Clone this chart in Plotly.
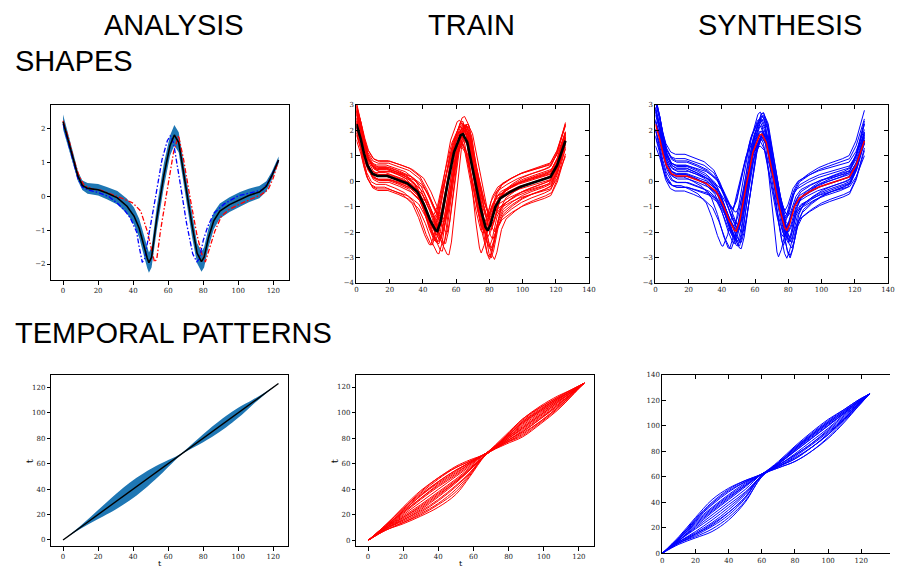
import numpy as np
import plotly.graph_objects as go

W, H = 897, 573

# ---------------- DATA ----------------
# ANALYSIS shapes (panel 1)
mean_x = [0, 3, 6, 8.5, 11, 14, 20, 25, 31, 36.5, 40.5, 43.5, 46, 48, 49, 50.5, 53.5, 57.5, 61, 63.5, 66,
          69.5, 73.5, 76.5, 79, 80.5, 83, 86, 89.5, 95, 101, 106, 112, 116, 119, 123]
mean_y = [2.21, 1.68, 1.08, 0.6, 0.33, 0.24, 0.2, 0.1, -0.04, -0.29, -0.58, -0.95, -1.45, -1.82, -1.96, -1.8,
          -0.65, 0.62, 1.5, 1.82, 1.6, 0.45, -0.82, -1.68, -1.93, -1.8, -1.22, -0.72, -0.43, -0.24, -0.09,
          0.03, 0.13, 0.3, 0.6, 1.08]
band_upper = [2.43, 1.88, 1.25, 0.74, 0.47, 0.40, 0.37, 0.28, 0.16, -0.07, -0.33, -0.67, -1.15, -1.52, -1.66,
              -1.50, -0.30, 0.97, 1.80, 2.12, 1.90, 0.80, -0.47, -1.38, -1.63, -1.50, -0.94, -0.47, -0.21,
              -0.02, 0.13, 0.23, 0.31, 0.45, 0.72, 1.18]
band_lower = [1.99, 1.48, 0.91, 0.46, 0.19, 0.08, 0.03, -0.08, -0.24, -0.51, -0.83, -1.23, -1.75, -2.12,
              -2.26, -2.10, -1.00, 0.27, 1.20, 1.52, 1.30, 0.10, -1.17, -1.98, -2.23, -2.10, -1.50, -0.97,
              -0.65, -0.46, -0.31, -0.17, -0.05, 0.15, 0.48, 0.98]
red_x = [0, 3, 6, 9, 12, 16, 22, 28, 34, 40, 44.3, 48, 50.9, 52.2, 53.5, 55.6, 59.3, 63.1, 65.9, 68.7, 72.5,
         76.3, 79.1, 81.2, 83.8, 86.7, 90.4, 95, 101, 107, 113, 117, 120, 123]
red_y = [2.24, 1.75, 1.12, 0.62, 0.33, 0.23, 0.18, 0.07, -0.06, -0.2, -0.43, -1.02, -1.7, -1.94, -1.85, -1.02,
         0.15, 1.32, 1.8, 1.12, -0.04, -1.11, -1.7, -1.94, -1.5, -1.02, -0.58, -0.38, -0.22, -0.08, 0.05,
         0.2, 0.55, 1.08]
blue_x = [0, 3, 6, 8.5, 11, 14, 20, 26, 31, 35, 38.5, 42, 43.3, 45.2, 46.5, 48.5, 52.5, 56.5, 59.5, 61.2, 63,
          66.5, 70.5, 74, 76.3, 77.8, 80, 82.5, 86, 92, 100, 108, 114, 118, 123]
blue_y = [2.15, 1.6, 1.0, 0.52, 0.28, 0.2, 0.12, 0.0, -0.2, -0.4, -0.65, -1.05, -1.45, -1.95, -1.85, -1.3,
          -0.1, 1.1, 1.65, 1.8, 1.6, 0.5, -0.8, -1.7, -1.93, -1.85, -1.3, -0.9, -0.5, -0.22, 0.02, 0.12,
          0.2, 0.5, 1.08]

# TRAIN / SYNTHESIS template (mean) shape
tmean_x = [0, 2.6, 4.6, 6.6, 9.6, 12.6, 18.6, 24.6, 30.6, 36.7, 40.7, 44.7, 47.7, 48.7, 50.7, 54.7, 58.7,
           62.7, 64.1, 66.7, 70.7, 74.7, 77.7, 79.1, 80.7, 83.7, 86.7, 92.7, 98.8, 104.7, 112.8, 116.8,
           120.8, 123.8, 125.8]
tmean_y = [2.23, 1.65, 1.07, 0.62, 0.29, 0.2, 0.2, 0.07, -0.09, -0.42, -0.93, -1.58, -1.94, -1.96, -1.58,
           -0.16, 1.13, 1.8, 1.84, 1.52, 0.23, -1.06, -1.81, -1.94, -1.71, -1.0, -0.67, -0.42, -0.22,
           -0.09, 0.06, 0.16, 0.62, 1.2, 1.58]
landmarks = [0, 48.7, 64.1, 79.1, 125.8]

# per-curve: (shift dip1, shift peak, shift dip2, amplitude, left level, right level)
train_curves = [
    (0, 0, 0, 1.0, 0.05, 0.0), (-3, -2, -2, 1.1, -0.35, 0.15), (3, 2, 2, 1.2, 0.3, -0.3),
    (5, 2, 1, 1.3, 0.1, -0.55), (-2, -1, 1, 0.9, 0.45, 0.5), (1, 1, -3, 1.15, -0.2, 0.35),
    (7, 3, 2, 1.35, -0.25, -0.4), (-4, -2, -3, 1.05, -0.45, 0.0), (2, 0, 3, 1.0, 0.5, 0.25),
    (4, 1, 4, 1.25, 0.0, -0.65), (-1, 0, -4, 1.3, 0.2, -0.3), (3, 1, 0, 0.85, -0.1, 0.15),
    (-2, -2, 1, 1.05, 0.35, 0.55), (6, 2, 3, 1.1, 0.15, -0.15), (1, -1, -1, 0.95, -0.5, -0.25),
    (0, 1, 2, 1.2, 0.25, 0.4), (2, 2, -2, 1.1, -0.15, 0.5), (-3, -1, 0, 0.9, 0.15, -0.45),
    (5, 3, 4, 1.05, 0.55, 0.05), (3, 0, 1, 1.25, -0.3, -0.15), (-1, 1, 3, 1.0, 0.0, 0.3),
    (4, 2, -1, 0.95, 0.25, -0.1), (1, 0, 1, 1.15, -0.6, -0.75), (2, 1, -2, 1.0, 0.6, 0.1),
    (0, -1, 2, 1.2, -0.05, -0.4), (-2, 0, 0, 1.1, 0.3, 0.2),
]
synth_curves = [
    (0, 0, 0, 1.0, 0.1, 0.1), (-8, -2, -1, 1.1, -0.4, 0.0), (-4, -1, 1, 1.3, -0.1, 0.2),
    (2, 1, 2, 1.4, 0.2, -0.3), (1, 0, -5, 1.3, 0.0, -0.45), (1, 1, 3, 1.2, 0.5, -0.1),
    (-2, -1, -1, 0.9, 0.7, 0.6), (3, 1, 3, 1.2, -0.3, -0.3), (-1, 1, 0, 1.1, 0.4, 0.7),
    (1, -1, 1, 0.8, -0.4, 0.2), (-2, 0, -2, 1.0, 0.85, 0.35), (3, 2, 1, 1.15, -0.15, -0.2),
    (0, 1, 2, 1.3, 0.25, 0.3), (-3, -1, -2, 1.05, -0.6, -0.15), (2, 1, 0, 0.9, 0.0, 0.45),
    (1, -1, 2, 1.2, 0.55, -0.6), (-1, 0, 1, 1.0, -0.25, 0.0), (1, 1, -2, 1.35, 0.3, 0.1),
    (4, 2, 2, 1.1, 0.15, -0.25), (-1, -1, -1, 1.25, 0.0, 0.8), (0, 1, 1, 0.85, 0.45, -0.35),
    (2, 0, 1, 1.0, -0.45, 0.25), (-1, 0, 0, 1.2, 0.2, -0.7),
]

# ANALYSIS temporal pattern (panel 4)
band_t = [0, 10, 20, 30, 38, 46, 55, 62, 67, 75, 85, 93, 100, 108, 115, 123]
band_t_up = [0, 11.2, 23.5, 36.0, 45.0, 52.5, 59.5, 64.0, 67.5, 77.0, 89.0, 97.5, 104.0, 110.0, 115.8, 123]
band_t_lo = [0, 8.8, 16.5, 24.0, 31.0, 39.5, 50.5, 60.0, 66.5, 73.0, 81.0, 88.5, 96.0, 106.0, 114.2, 123]
ident_t = [0, 123]

# TRAIN warps (panel 5)
train_warp_t = [0, 10, 20, 30, 40, 50, 58, 67, 78, 88, 98, 108, 116, 123]
train_warps = [
    [0, 12, 26, 39, 49, 58, 63, 68, 81, 95, 104, 112, 118, 123],
    [0, 11, 24, 36, 46, 55, 61, 68, 80, 93, 102, 111, 117, 123],
    [0, 11, 22, 33, 44, 53, 60, 68, 82, 95, 105, 113, 118, 123],
    [0, 10, 21, 32, 42, 51, 59, 68, 77, 85, 95, 106, 115, 123],
    [0, 10, 20, 30, 40, 50, 58, 68, 79, 90, 100, 109, 116, 123],
    [0, 10, 18, 27, 37, 47, 56, 67, 78, 88, 98, 108, 116, 123],
    [0, 9, 16, 24, 34, 45, 55, 67, 76, 83, 93, 104, 114, 123],
    [0, 9, 15, 22, 31, 42, 53, 67, 79, 91, 101, 110, 117, 123],
    [0, 8, 14, 20, 28, 38, 51, 67, 75, 81, 91, 102, 113, 123],
    [0, 8, 13, 19, 26, 36, 50, 67, 80, 93, 103, 111, 117, 123],
    [0, 12, 25, 38, 49, 57, 62, 68, 76, 82, 92, 103, 114, 123],
    [0, 11, 23, 35, 45, 54, 61, 68, 77, 86, 96, 106, 115, 123],
    [0, 9, 17, 25, 35, 46, 55, 67, 81, 94, 104, 112, 118, 123],
    [0, 9, 16, 23, 32, 43, 53, 67, 77, 85, 95, 105, 115, 123],
    [0, 11, 23, 35, 46, 55, 61, 68, 79, 89, 99, 109, 116, 123],
    [0, 10, 19, 28, 38, 48, 57, 67, 80, 92, 102, 111, 117, 123],
    [0, 10, 22, 33, 43, 52, 60, 68, 76, 84, 93, 104, 114, 123],
    [0, 8, 14, 21, 29, 40, 52, 67, 78, 88, 98, 108, 116, 123],
    [0, 12, 25, 37, 48, 57, 62, 68, 80, 92, 101, 110, 117, 123],
    [0, 9, 18, 26, 36, 46, 56, 67, 78, 87, 97, 107, 115, 123],
]

# SYNTHESIS warps (panel 6)
synth_warp_t = [0, 10, 20, 30, 40, 50, 60, 70, 80, 90, 100, 110, 118, 125]
synth_warps = [
    [0, 13, 28, 42, 51, 57, 62, 71, 83, 94, 104, 113, 120, 125],
    [0, 12, 26, 38, 48, 56, 62, 69, 77, 86, 97, 108, 117, 125],
    [0, 11, 23, 34, 44, 53, 62, 71, 82, 92, 102, 111, 119, 125],
    [0, 10, 20, 30, 40, 50, 62, 68, 75, 83, 94, 106, 116, 125],
    [0, 9, 17, 26, 36, 47, 61, 70, 80, 90, 100, 110, 118, 125],
    [0, 8, 15, 22, 32, 44, 61, 67, 72, 80, 91, 104, 115, 125],
    [0, 8, 13, 19, 28, 41, 60, 71, 83, 93, 103, 112, 119, 125],
    [0, 7, 12, 17, 26, 40, 60, 69, 77, 86, 96, 107, 117, 125],
    [0, 12, 27, 40, 50, 57, 62, 68, 74, 83, 93, 106, 116, 125],
    [0, 11, 25, 36, 46, 55, 62, 72, 84, 95, 105, 113, 120, 125],
    [0, 9, 16, 24, 34, 46, 61, 70, 81, 91, 101, 110, 118, 125],
    [0, 10, 21, 32, 42, 52, 62, 69, 78, 88, 98, 109, 117, 125],
    [0, 8, 14, 21, 30, 43, 61, 68, 76, 85, 95, 106, 116, 125],
    [0, 11, 24, 35, 45, 54, 62, 67, 72, 80, 90, 103, 115, 125],
    [0, 10, 19, 28, 38, 48, 61, 71, 82, 93, 103, 112, 119, 125],
    [0, 12, 26, 39, 49, 56, 62, 70, 80, 90, 100, 110, 118, 125],
    [0, 9, 15, 23, 32, 44, 61, 70, 81, 92, 102, 111, 119, 125],
    [0, 10, 22, 33, 43, 53, 62, 68, 74, 83, 93, 105, 116, 125],
]

col_titles = ["ANALYSIS", "TRAIN", "SYNTHESIS"]
row_titles = ["SHAPES", "TEMPORAL PATTERNS"]
axis_label = "t"

# ---------------- FIGURE ----------------
def px_x(p):
    return p / W

def px_y(p):
    return 1 - p / H

fig = go.Figure()
dashdot = "5px,2px,1.5px,2px"

# Panel 1: ANALYSIS shapes
fig.add_trace(go.Scatter(x=mean_x, y=band_lower, mode="lines", line=dict(width=0, color="#1f77b4"),
                         xaxis="x", yaxis="y", showlegend=False, hoverinfo="skip"))
fig.add_trace(go.Scatter(x=mean_x, y=band_upper, mode="lines", line=dict(width=0, color="#1f77b4"),
                         fill="tonexty", fillcolor="#1f77b4", xaxis="x", yaxis="y", showlegend=False))
fig.add_trace(go.Scatter(x=red_x, y=red_y, mode="lines", line=dict(color="red", width=1.3, dash=dashdot),
                         xaxis="x", yaxis="y", showlegend=False))
fig.add_trace(go.Scatter(x=blue_x, y=blue_y, mode="lines", line=dict(color="blue", width=1.3, dash=dashdot),
                         xaxis="x", yaxis="y", showlegend=False))
fig.add_trace(go.Scatter(x=mean_x, y=mean_y, mode="lines", line=dict(color="black", width=1.6),
                         xaxis="x", yaxis="y", showlegend=False))

tx = np.array(tmean_x)
ty = np.array(tmean_y)
lm = np.array(landmarks)


def build_curve(params):
    s1, s2, s3, a, bl, br = params
    shifted = lm + np.array([0, s1, s2, s3, 0])
    cx = np.interp(tx, lm, shifted)
    level = np.interp(tx, [0, 48.7, 79.1, 125.8], [bl, bl, br, br])
    return cx, a * ty + level


# Panel 2: TRAIN shapes
for p in train_curves:
    cx, cy = build_curve(p)
    fig.add_trace(go.Scatter(x=cx, y=cy, mode="lines", line=dict(color="red", width=1),
                             xaxis="x2", yaxis="y2", showlegend=False))
fig.add_trace(go.Scatter(x=tmean_x, y=tmean_y, mode="lines", line=dict(color="black", width=2.6),
                         xaxis="x2", yaxis="y2", showlegend=False))

# Panel 3: SYNTHESIS shapes
for p in synth_curves:
    cx, cy = build_curve(p)
    fig.add_trace(go.Scatter(x=cx, y=cy, mode="lines", line=dict(color="blue", width=1),
                             xaxis="x3", yaxis="y3", showlegend=False))
fig.add_trace(go.Scatter(x=tmean_x, y=tmean_y, mode="lines", line=dict(color="red", width=1.5),
                         xaxis="x3", yaxis="y3", showlegend=False))

# Panel 4: ANALYSIS temporal pattern
fig.add_trace(go.Scatter(x=band_t, y=band_t_lo, mode="lines", line=dict(width=0, color="#1f77b4", shape="spline"),
                         xaxis="x4", yaxis="y4", showlegend=False))
fig.add_trace(go.Scatter(x=band_t, y=band_t_up, mode="lines", line=dict(width=0, color="#1f77b4", shape="spline"),
                         fill="tonexty", fillcolor="#1f77b4", xaxis="x4", yaxis="y4", showlegend=False))
fig.add_trace(go.Scatter(x=ident_t, y=ident_t, mode="lines", line=dict(color="black", width=1.4),
                         xaxis="x4", yaxis="y4", showlegend=False))

# Panel 5: TRAIN warps
for wv in train_warps:
    fig.add_trace(go.Scatter(x=train_warp_t, y=wv, mode="lines", line=dict(color="red", width=1, shape="spline"),
                             xaxis="x5", yaxis="y5", showlegend=False))

# Panel 6: SYNTHESIS warps
for wv in synth_warps:
    fig.add_trace(go.Scatter(x=synth_warp_t, y=wv, mode="lines", line=dict(color="blue", width=1, shape="spline"),
                             xaxis="x6", yaxis="y6", showlegend=False))

tickfont = dict(family="DejaVu Serif", size=7, color="#222")


def modern(domain, rng, dtick, anchor):
    return dict(domain=domain, range=rng, dtick=dtick, anchor=anchor, showline=True, linecolor="black",
                linewidth=1.2, mirror=True, ticks="outside", ticklen=3.5, tickwidth=1, tickcolor="black",
                showgrid=False, zeroline=False, tickfont=tickfont)


def classic(domain, rng, dtick, anchor, mirror="ticks"):
    return dict(domain=domain, range=rng, dtick=dtick, anchor=anchor, showline=True, linecolor="black",
                linewidth=1, mirror=mirror, ticks="inside", ticklen=4, tickwidth=0.8, tickcolor="black",
                showgrid=False, zeroline=False, tickfont=tickfont)


top_row = [px_y(280), px_y(102)]
top_row2 = [px_y(283), px_y(102)]
bot_row = [px_y(550), px_y(376)]

fig.update_layout(
    width=W, height=H, margin=dict(l=0, r=0, t=0, b=0),
    paper_bgcolor="white", plot_bgcolor="white",
    xaxis=modern([px_x(50), px_x(290)], [-6.6, 129.0], 20, "y"),
    yaxis=modern(top_row, [-2.476, 2.721], 1, "x"),
    xaxis2=classic([px_x(358), px_x(593)], [0, 140], 20, "y2"),
    yaxis2=classic(top_row2, [-4, 3], 1, "x2"),
    xaxis3=classic([px_x(660), px_x(895)], [0, 140], 20, "y3"),
    yaxis3=classic(top_row2, [-4, 3], 1, "x3"),
    xaxis4=modern([px_x(50), px_x(289)], [-6.6, 128.5], 20, "y4"),
    yaxis4=modern(bot_row, [-5.0, 129.9], 20, "x4"),
    xaxis5=modern([px_x(358), px_x(598)], [-6.6, 128.6], 20, "y5"),
    yaxis5=modern(bot_row, [-4.6, 129.6], 20, "x5"),
    xaxis6=classic([px_x(667), 1.0], [0, 137.3], 20, "y6"),
    yaxis6=classic([px_y(557), px_y(376)], [0, 140], 20, "x6", mirror=False),
)

title_font = dict(family="Liberation Sans", size=29, color="black")
annotations = []
for txt, cx in zip(col_titles, [174, 474, 786]):
    annotations.append(dict(text=txt, x=px_x(cx), y=px_y(21), xref="paper", yref="paper",
                            xanchor="center", yanchor="middle", showarrow=False, font=title_font))
for txt, cy in zip(row_titles, [58, 334]):
    annotations.append(dict(text=txt, x=px_x(11), y=px_y(cy), xref="paper", yref="paper",
                            xanchor="left", yanchor="middle", showarrow=False, font=title_font))
label_font = dict(family="DejaVu Serif", size=10, color="black")
for lx, ly, ang in [(28, 464, -90), (336, 464, -90)]:
    annotations.append(dict(text=axis_label, x=px_x(lx), y=px_y(ly), xref="paper", yref="paper",
                            xanchor="center", yanchor="middle", showarrow=False, font=label_font,
                            textangle=ang))
for lx in [160, 464]:
    annotations.append(dict(text=axis_label, x=px_x(lx), y=0, xref="paper", yref="paper",
                            xanchor="center", yanchor="bottom", showarrow=False, borderpad=0,
                            font=dict(family="DejaVu Serif", size=8, color="black")))
fig.update_layout(annotations=annotations)

fig.write_html("out.html")
